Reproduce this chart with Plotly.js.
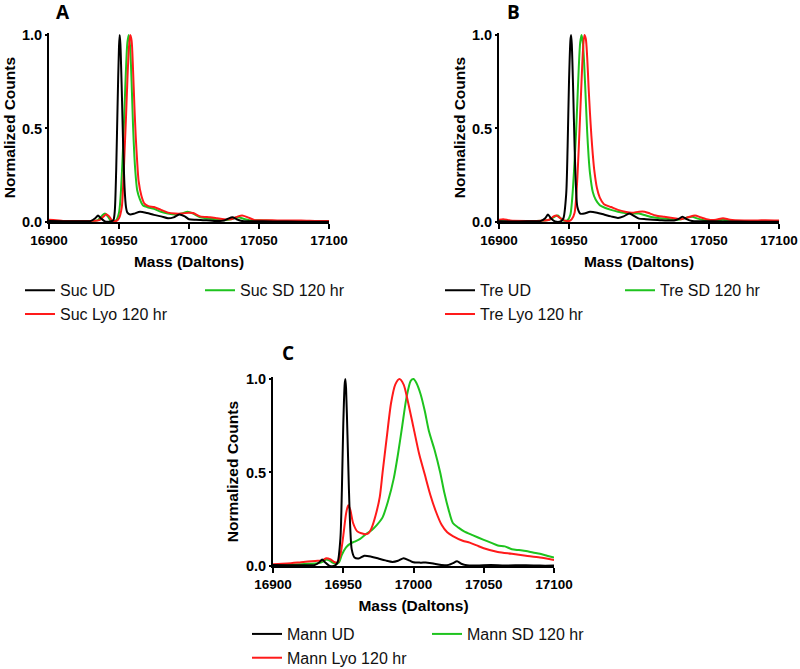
<!DOCTYPE html>
<html>
<head>
<meta charset="utf-8">
<script src="https://cdn.plot.ly/plotly-3.0.1.min.js"></script>
<style>
html,body{margin:0;padding:0;background:#fff;}
#chart{width:800px;height:669px;}
</style>
</head>
<body>
<div id="chart"></div>
<script>
// ---------- Panel A : Sucrose ----------
var sucUDMass = [16900,16910,16920,16930,16933,16935,16937,16940,16944,16946,16947,16948,16949,16950,16950.5,16951,16952,16953,16954,16955,16956,16958,16961,16965,16970,16975,16980,16985,16989,16993,16997,17000,17005,17010,17015,17020,17025,17028,17031,17034,17038,17045,17060,17080,17100];
var sucUD     = [0.005,0.004,0.004,0.006,0.02,0.035,0.02,0.003,0.003,0.01,0.06,0.28,0.63,0.94,1.0,0.95,0.7,0.4,0.18,0.08,0.05,0.04,0.045,0.055,0.048,0.038,0.03,0.02,0.025,0.04,0.03,0.015,0.012,0.01,0.008,0.005,0.008,0.018,0.025,0.015,0.005,0.004,0.003,0.002,0.002];

var sucSDMass = [16900,16920,16930,16935,16938,16940,16942,16944,16946,16948,16950,16951,16952,16953,16954,16955,16956,16957,16958,16959,16960,16961,16962,16963,16965,16967,16970,16975,16980,16985,16990,16995,16999,17003,17008,17015,17020,17025,17030,17035,17040,17045,17050,17060,17080,17100];
var sucSD     = [0.003,0.004,0.005,0.01,0.035,0.045,0.03,0.008,0.005,0.01,0.05,0.12,0.25,0.42,0.62,0.82,0.96,1.0,0.93,0.75,0.52,0.35,0.24,0.17,0.12,0.09,0.08,0.07,0.055,0.045,0.04,0.045,0.055,0.045,0.025,0.018,0.015,0.01,0.015,0.025,0.015,0.008,0.01,0.006,0.005,0.004];

var sucLyoMass = [16900,16905,16910,16920,16930,16936,16939,16941,16943,16945,16948,16950,16952,16953,16954,16955,16956,16957,16958,16959,16960,16961,16962,16963,16964,16966,16968,16971,16975,16980,16985,16990,16995,17000,17003,17008,17015,17020,17025,17030,17035,17038,17042,17047,17055,17065,17080,17090,17100];
var sucLyo     = [0.012,0.01,0.006,0.005,0.006,0.01,0.03,0.042,0.03,0.008,0.005,0.02,0.08,0.2,0.38,0.56,0.76,0.92,1.0,0.97,0.82,0.62,0.45,0.32,0.22,0.14,0.1,0.085,0.08,0.065,0.05,0.045,0.045,0.05,0.048,0.03,0.025,0.02,0.015,0.015,0.03,0.035,0.025,0.01,0.01,0.008,0.008,0.006,0.005];

// ---------- Panel B : Trehalose ----------
var treUDMass = [16900,16910,16920,16930,16933,16935,16937,16940,16944,16946,16948,16949,16950,16951,16951.5,16952,16953,16954,16955,16956,16958,16961,16965,16970,16975,16980,16985,16989,16993,16997,17000,17005,17010,17015,17020,17025,17028,17031,17034,17038,17045,17060,17080,17100];
var treUD     = [0.004,0.003,0.004,0.006,0.02,0.04,0.02,0.003,0.003,0.02,0.15,0.4,0.75,0.97,1.0,0.95,0.7,0.4,0.18,0.08,0.045,0.045,0.055,0.05,0.04,0.03,0.022,0.03,0.045,0.03,0.018,0.015,0.012,0.01,0.008,0.008,0.015,0.028,0.015,0.005,0.004,0.003,0.002,0.002];

var treSDMass = [16900,16920,16935,16939,16942,16944,16946,16949,16951,16952,16953,16954,16955,16956,16957,16958,16959,16960,16961,16962,16963,16964,16965,16967,16969,16972,16976,16980,16985,16990,16995,17000,17005,17010,17015,17020,17025,17030,17035,17038,17042,17048,17055,17060,17065,17080,17100];
var treSD     = [0.004,0.004,0.01,0.025,0.035,0.02,0.008,0.01,0.04,0.1,0.2,0.33,0.47,0.65,0.83,0.96,1.0,0.95,0.82,0.65,0.48,0.35,0.26,0.16,0.12,0.09,0.075,0.065,0.055,0.048,0.045,0.045,0.035,0.025,0.02,0.018,0.012,0.015,0.025,0.028,0.018,0.008,0.008,0.012,0.006,0.004,0.004];

var treLyoMass = [16900,16903,16908,16920,16930,16936,16939,16941,16943,16946,16950,16952,16954,16955,16956,16957,16958,16959,16960,16961,16962,16963,16964,16965,16966,16967,16968,16970,16972,16975,16980,16985,16990,16995,17000,17004,17008,17012,17018,17025,17030,17035,17040,17044,17050,17055,17060,17065,17075,17085,17090,17100];
var treLyo     = [0.012,0.015,0.008,0.006,0.007,0.012,0.03,0.035,0.025,0.01,0.005,0.015,0.05,0.12,0.24,0.4,0.58,0.76,0.92,1.0,0.98,0.88,0.72,0.58,0.46,0.36,0.28,0.18,0.13,0.095,0.08,0.065,0.055,0.05,0.055,0.055,0.045,0.035,0.028,0.02,0.015,0.025,0.035,0.025,0.012,0.012,0.02,0.012,0.008,0.008,0.01,0.008];

// ---------- Panel C : Mannitol ----------
var mannUDMass = [16900,16910,16920,16930,16933,16935,16937,16940,16944,16946,16948,16949,16950,16951,16951.5,16952,16953,16954,16955,16956,16958,16961,16965,16970,16975,16980,16985,16989,16993,16997,17000,17005,17010,17015,17020,17025,17028,17031,17034,17038,17045,17055,17065,17080,17090,17100];
var mannUD     = [0.005,0.004,0.004,0.006,0.02,0.035,0.02,0.002,0.002,0.02,0.15,0.4,0.75,0.97,1.0,0.95,0.7,0.42,0.2,0.09,0.045,0.04,0.055,0.05,0.04,0.03,0.022,0.028,0.042,0.03,0.02,0.018,0.018,0.012,0.005,0.006,0.015,0.025,0.012,0.004,0.003,0.005,0.003,0.004,0.002,0.002];

var mannSDMass = [16900,16915,16925,16932,16936,16938,16940,16942,16945,16947,16949,16952,16955,16958,16962,16966,16970,16974,16978,16982,16986,16989,16992,16995,16998,17000,17002,17005,17008,17011,17015,17019,17022,17025,17028,17032,17036,17042,17050,17055,17060,17065,17070,17075,17080,17085,17090,17095,17100];
var mannSD     = [0.005,0.008,0.012,0.015,0.025,0.035,0.03,0.02,0.012,0.02,0.06,0.1,0.12,0.13,0.145,0.17,0.19,0.22,0.26,0.35,0.47,0.6,0.75,0.9,0.99,1.0,0.98,0.92,0.83,0.72,0.62,0.5,0.39,0.3,0.23,0.205,0.185,0.165,0.14,0.125,0.11,0.105,0.09,0.085,0.08,0.072,0.065,0.055,0.045];

var mannLyoMass = [16900,16910,16920,16930,16935,16938,16941,16944,16946,16948,16950,16952,16953.5,16955,16957,16960,16963,16966,16968,16970,16973,16976,16978,16981,16984,16987,16990,16993,16996,17000,17004,17008,17012,17016,17020,17024,17028,17035,17040,17045,17050,17060,17070,17080,17090,17100];
var mannLyo     = [0.01,0.013,0.02,0.027,0.03,0.042,0.035,0.02,0.02,0.06,0.16,0.28,0.325,0.3,0.23,0.185,0.175,0.17,0.175,0.2,0.27,0.37,0.5,0.69,0.87,0.97,1.0,0.97,0.88,0.74,0.6,0.49,0.38,0.29,0.22,0.18,0.16,0.135,0.125,0.11,0.095,0.075,0.065,0.055,0.045,0.032];

var tickMass = [16900,16950,17000,17050,17100];
var tickMassText = ['16900','16950','17000','17050','17100'];
var tickCounts = [0, 0.5, 1.0];
var tickCountsText = ['0.0','0.5','1.0'];
var xTitle = 'Mass (Daltons)';
var yTitle = 'Normalized Counts';

var BLACK = '#000000', RED = '#ff1a1a', GREEN = '#1ec31e';
var FONT = 'Liberation Sans, Arial, sans-serif';

function tr(x, y, name, color, xa, ya, leg, grp, rank) {
  return {
    x: x, y: y, name: name, type: 'scatter', mode: 'lines',
    line: {color: color, width: 2, shape: 'spline', smoothing: 0.7},
    xaxis: xa, yaxis: ya, legend: leg, legendgroup: grp, legendrank: rank,
    hoverinfo: 'x+y+name'
  };
}

var data = [
  tr(sucSDMass, sucSD, 'Suc SD 120 hr', GREEN, 'x', 'y', 'legend', 'a2', 3),
  tr(sucLyoMass, sucLyo, 'Suc Lyo 120 hr', RED, 'x', 'y', 'legend', 'a1', 2),
  tr(sucUDMass, sucUD, 'Suc UD', BLACK, 'x', 'y', 'legend', 'a1', 1),
  tr(treSDMass, treSD, 'Tre SD 120 hr', GREEN, 'x2', 'y2', 'legend2', 'b2', 3),
  tr(treLyoMass, treLyo, 'Tre Lyo 120 hr', RED, 'x2', 'y2', 'legend2', 'b1', 2),
  tr(treUDMass, treUD, 'Tre UD', BLACK, 'x2', 'y2', 'legend2', 'b1', 1),
  tr(mannSDMass, mannSD, 'Mann SD 120 hr', GREEN, 'x3', 'y3', 'legend3', 'c2', 3),
  tr(mannLyoMass, mannLyo, 'Mann Lyo 120 hr', RED, 'x3', 'y3', 'legend3', 'c1', 2),
  tr(mannUDMass, mannUD, 'Mann UD', BLACK, 'x3', 'y3', 'legend3', 'c1', 1)
];

function xax(domain, anchor) {
  return {
    domain: domain, anchor: anchor, range: [16900, 17100],
    tickvals: tickMass, ticktext: tickMassText, ticks: 'outside', ticklen: 5, tickwidth: 2, tickcolor: '#000',
    showline: true, linecolor: '#000', linewidth: 2, showgrid: false, zeroline: false,
    tickfont: {family: FONT, size: 13.5, color: '#000', weight: 'bold'},
    title: {text: xTitle, font: {family: FONT, size: 15.5, color: '#000', weight: 'bold'}, standoff: 9},
    automargin: false, fixedrange: true
  };
}
function yax(domain, anchor) {
  return {
    domain: domain, anchor: anchor, range: [0, 1.01],
    tickvals: tickCounts, ticktext: tickCountsText, ticks: 'outside', ticklen: 2, tickwidth: 2, tickcolor: '#000',
    showline: true, linecolor: '#000', linewidth: 2, showgrid: false, zeroline: false,
    tickfont: {family: FONT, size: 14.5, color: '#000', weight: 'bold'},
    title: {text: yTitle, font: {family: FONT, size: 15.5, color: '#000', weight: 'bold'}, standoff: 3},
    automargin: false, fixedrange: true
  };
}
function leg(x, y) {
  return {
    x: x, y: y, xanchor: 'left', yanchor: 'top', orientation: 'h',
    traceorder: 'grouped', tracegroupgap: 0, bgcolor: 'rgba(0,0,0,0)',
    entrywidth: 135, entrywidthmode: 'pixels',
    font: {family: FONT, size: 16, color: '#111'}
  };
}

var labelFont = {family: 'Open Sans, sans-serif', size: 19, color: '#000', weight: 'bold'};

var layout = {
  width: 800, height: 669,
  margin: {l: 0, r: 0, t: 0, b: 0, autoexpand: false},
  paper_bgcolor: '#fff', plot_bgcolor: '#fff',
  showlegend: true,
  xaxis: xax([0.06125, 0.41125], 'y'),
  yaxis: yax([0.66816, 0.95048], 'x'),
  xaxis2: xax([0.62375, 0.97375], 'y2'),
  yaxis2: yax([0.66816, 0.95048], 'x2'),
  xaxis3: xax([0.34125, 0.6925], 'y3'),
  yaxis3: yax([0.15396, 0.43632], 'x3'),
  legend: leg(0.025, 0.5915),
  legend2: leg(0.55, 0.5915),
  legend3: leg(0.30875, 0.0777),
  annotations: [
    {text: 'A', x: 63/800, y: 1 - 12.5/669, xref: 'paper', yref: 'paper', showarrow: false, xanchor: 'center', yanchor: 'middle', borderpad: 0, font: labelFont},
    {text: 'B', x: 513/800, y: 1 - 12.5/669, xref: 'paper', yref: 'paper', showarrow: false, xanchor: 'center', yanchor: 'middle', borderpad: 0, font: labelFont},
    {text: 'C', x: 288/800, y: 1 - 353/669, xref: 'paper', yref: 'paper', showarrow: false, xanchor: 'center', yanchor: 'middle', borderpad: 0, font: labelFont}
  ]
};

Plotly.newPlot('chart', data, layout, {displayModeBar: false});
</script>
</body>
</html>
